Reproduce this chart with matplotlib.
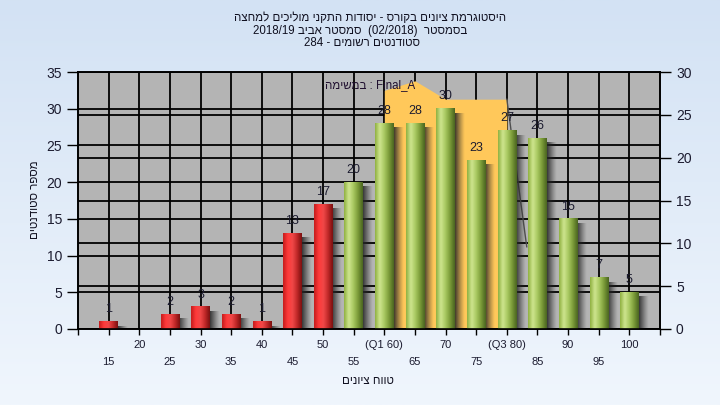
"""
Grade histogram for a course (Hebrew RTL labels), bars with cylinder shading.
"""

import numpy as np
import matplotlib
matplotlib.use("Agg")
import matplotlib.pyplot as plt
from matplotlib.colors import LinearSegmentedColormap
from matplotlib.transforms import blended_transform_factory

plt.rcParams['font.family'] = ['Liberation Sans', 'DejaVu Sans']

# Data
scores = [15, 20, 25, 30, 35, 40, 45, 50, 55, 60, 65, 70, 75, 80, 85, 90, 95, 100]
counts = [1, 0, 2, 3, 2, 1, 13, 17, 20, 28, 28, 30, 23, 27, 26, 15, 7, 5]
tick_labels = ['15', '20', '25', '30', '35', '40', '45', '50', '55', '(Q1 60)',
               '65', '70', '75', '(Q3 80)', '85', '90', '95', '100']
PASS_SCORE = 55

# Q1..Q3 band (left-axis units)
band_scores = [60, 65, 70, 75, 80]
band_top = [32.5, 33.8, 31.3, 31.3, 31.3]

left_ticks = [0, 5, 10, 15, 20, 25, 30, 35]
right_ticks = [0, 5, 10, 15, 20, 25, 30]

title_lines = [
    "היסטוגרמת ציונים בקורס - יסודות התקני מוליכים למחצה",
    "בסמסטר  (02/2018)  סמסטר אביב 2018/19",
    "סטודנטים רשומים - 284",
]
y_label = "מספר סטודנטים"
x_label = "טווח ציונים"
task_label = "Final_A : במשימה"


def is_heb(tok):
    return any('\u0590' <= c <= '\u05ff' for c in tok)


def rtl(s):
    """Crude visual reordering for an RTL paragraph."""
    toks = s.split(' ')[::-1]
    return ' '.join(t[::-1] if is_heb(t) else t for t in toks)


TXT = '#1c1c30'

fig = plt.figure(figsize=(7.2, 4.05), dpi=100)

# background gradient
bg = fig.add_axes([0, 0, 1, 1], zorder=-10)
grad = np.linspace(0, 1, 256).reshape(-1, 1)
bg_cmap = LinearSegmentedColormap.from_list('bg', ['#d3e2f4', '#f0f6fd'])
bg.imshow(grad, aspect='auto', cmap=bg_cmap, extent=[0, 1, 0, 1])
bg.axis('off')

ax = fig.add_axes([78 / 720, 1 - 329 / 405, 582 / 720, 257 / 405])
ax.set_facecolor('#b4b4b4')
x = np.arange(len(scores))

# grid
for v in left_ticks:
    ax.axhline(v, color='black', lw=1.3, zorder=1)
for v in right_ticks:
    ax.axhline(v * 35 / 30, color='black', lw=1.3, zorder=1)
for xi in x:
    ax.axvline(xi, color='black', lw=1.3, zorder=1)

# Q1-Q3 band
bx = [scores.index(s) for s in band_scores]
ax.fill_between(bx, 0, band_top, color='#ffc85a', lw=0, zorder=2)
ax.plot([bx[-1], bx[-1] + 0.65], [band_top[-1], 11.2], color='#505050', lw=1, zorder=2)

red_cmap = LinearSegmentedColormap.from_list(
    'red', ['#c41c1c', '#ff3a3a', '#f04848', '#c02828', '#7a1010'])
green_cmap = LinearSegmentedColormap.from_list(
    'green', ['#8fb040', '#cfe690', '#a8c860', '#7a9a38', '#4a6420'])
hgrad = np.linspace(0, 1, 64).reshape(1, -1)

shadow = np.zeros((1, 32, 4))
shadow[..., :3] = 0.15
shadow[..., 3] = np.linspace(0.9, 0.0, 32) ** 1.2

w = 0.6
for xi, s, c in zip(x, scores, counts):
    if c == 0:
        continue
    x0, x1 = xi - w / 2, xi + w / 2
    # shadow to the right
    ax.imshow(shadow, extent=[x1, x1 + 0.3, 0, max(c - 0.6, 0.2)],
              aspect='auto', interpolation='bilinear', zorder=3)
    cmap = red_cmap if s < PASS_SCORE else green_cmap
    ax.imshow(hgrad, extent=[x0, x1, 0, c], aspect='auto', cmap=cmap,
              interpolation='bicubic', zorder=4)
    ax.annotate(str(c), (xi, c), xytext=(0, 4.5), textcoords='offset points',
                ha='center', va='bottom', fontsize=9, color=TXT, zorder=5)

ax.set_xlim(-1, len(scores))
ax.set_ylim(0, 35)

# x ticks: marks only, staggered labels as text
ax.set_xticks(np.arange(-1, len(scores) + 1))
ax.set_xticklabels([])
ax.tick_params(axis='x', length=4, width=1, color='black')
trans = blended_transform_factory(ax.transData, ax.transAxes)
for xi, lab in zip(x, tick_labels):
    yy = -0.064 if xi % 2 else -0.13
    ax.text(xi, yy, lab, transform=trans, ha='center', va='center',
            fontsize=8, color=TXT)

ax.set_yticks(left_ticks)
ax.tick_params(axis='y', length=8, width=1, labelsize=10, labelcolor=TXT)

ax2 = ax.twinx()
ax2.set_ylim(0, 30)
ax2.set_yticks(right_ticks)
ax2.tick_params(axis='y', length=8, width=1, labelsize=10, labelcolor=TXT)
ax2.set_xlim(ax.get_xlim())

for a in (ax, ax2):
    for sp in a.spines.values():
        sp.set_color('black')
        sp.set_linewidth(1.2)

ax.text(7.05, 33.2, rtl(task_label), fontsize=8.3, color='#201030',
        ha='left', va='center', zorder=6)

# titles
for (cx, cy), line in zip([(370, 18), (360, 31), (362, 43)], title_lines):
    fig.text(cx / 720, 1 - cy / 405, rtl(line), ha='center', va='center',
             fontsize=8.3, color='#101020')

fig.text(35 / 720, 1 - 200 / 405, rtl(y_label), rotation=90, ha='center',
         va='center', fontsize=8.3, color='#101020')
fig.text(368 / 720, 1 - 381 / 405, rtl(x_label), ha='center', va='center',
         fontsize=8.3, color='#101020')

fig.savefig('out.png', dpi=100)
